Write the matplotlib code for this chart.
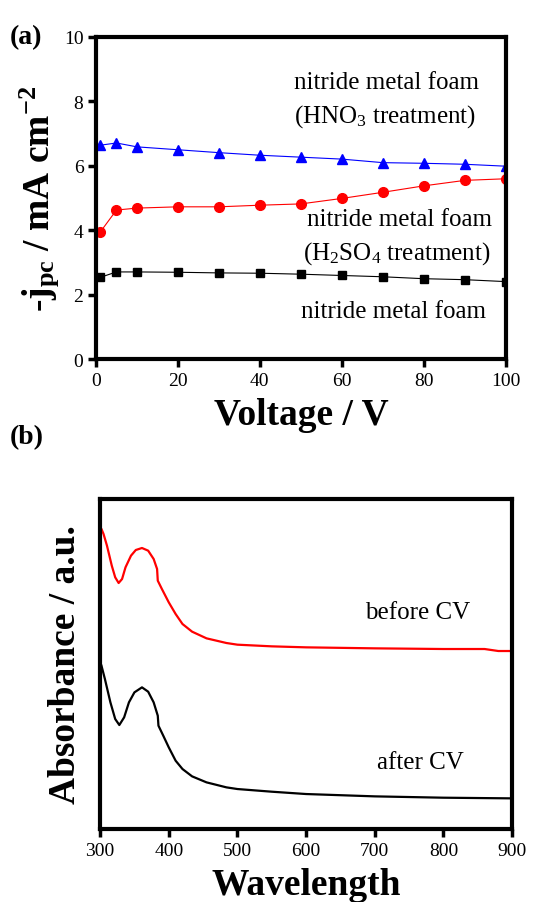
import numpy as np
import matplotlib
matplotlib.use("Agg")
import matplotlib.pyplot as plt

plt.rcParams["font.family"] = "Liberation Serif"
plt.rcParams["mathtext.fontset"] = "custom"
plt.rcParams["mathtext.rm"] = "Liberation Serif"
plt.rcParams["mathtext.bf"] = "Liberation Serif:bold"
plt.rcParams["mathtext.default"] = "regular"

# ---- (a) photocurrent vs applied voltage ----
voltage = [1, 5, 10, 20, 30, 40, 50, 60, 70, 80, 90, 100]
j_hno3 = [6.64, 6.71, 6.59, 6.50, 6.41, 6.33, 6.27, 6.21, 6.10, 6.08, 6.05, 5.99]
j_h2so4 = [3.94, 4.63, 4.69, 4.73, 4.73, 4.78, 4.82, 4.99, 5.18, 5.38, 5.55, 5.60]
j_plain = [2.54, 2.71, 2.71, 2.70, 2.68, 2.67, 2.64, 2.60, 2.56, 2.50, 2.47, 2.41]

# ---- (b) UV-vis absorbance ----
wl_before = [300, 302, 305, 310, 317, 322, 327, 332, 337, 345, 352, 361, 370,
             378, 383, 384, 390, 400, 410, 420, 434, 455, 484, 500, 550, 600,
             700, 800, 860, 880, 900]
abs_before = [9.05, 9.0, 8.85, 8.5, 7.9, 7.55, 7.38, 7.5, 7.85, 8.2, 8.37, 8.43, 8.35,
              8.1, 7.8, 7.45, 7.2, 6.8, 6.45, 6.15, 5.92, 5.72, 5.58, 5.53, 5.48, 5.45,
              5.42, 5.40, 5.40, 5.34, 5.34]
wl_after = [302, 307, 315, 322, 328, 335, 342, 350, 361, 370, 378, 384, 385,
            392, 400, 410, 420, 434, 455, 484, 500, 550, 600, 700, 800, 900]
abs_after = [4.9, 4.5, 3.8, 3.3, 3.12, 3.35, 3.8, 4.1, 4.25, 4.12, 3.8, 3.4, 3.1,
             2.8, 2.45, 2.05, 1.8, 1.58, 1.4, 1.25, 1.2, 1.12, 1.05, 0.98, 0.94, 0.92]

fig = plt.figure(figsize=(5.5, 9.03), dpi=100)

ax1 = fig.add_axes([0.1745, 0.601, 0.745, 0.357])
ax1.plot(voltage, j_hno3, "-^", color="blue", lw=0.8, ms=7)
ax1.plot(voltage, j_h2so4, "-o", color="red", lw=0.8, ms=7)
ax1.plot(voltage, j_plain, "-s", color="black", lw=0.8, ms=6)
ax1.set_xlim(0, 100)
ax1.set_ylim(0, 10)
ax1.set_xticks(range(0, 101, 20))
ax1.set_yticks(range(0, 11, 2))
ax1.set_xlabel("Voltage / V", fontsize=27, fontweight="bold", labelpad=6)
ax1.set_ylabel(r"-j$_\mathbf{pc}$ / mA cm$^\mathbf{-2}$", fontsize=27,
               fontweight="bold", labelpad=2)

ax1.text(71, 8.6, "nitride metal foam", fontsize=18, ha="center", va="center")
ax1.text(70.5, 7.55, r"(HNO$_3$ treatment)", fontsize=18, ha="center", va="center")
ax1.text(74, 4.35, "nitride metal foam", fontsize=18, ha="center", va="center")
ax1.text(73.5, 3.32, r"(H$_2$SO$_4$ treatment)", fontsize=18, ha="center", va="center")
ax1.text(72.5, 1.5, "nitride metal foam", fontsize=18, ha="center", va="center")

ax2 = fig.add_axes([0.182, 0.0808, 0.749, 0.3655])
ax2.plot(wl_before, abs_before, color="red", lw=1.6)
ax2.plot(wl_after, abs_after, color="black", lw=1.6)
ax2.set_xlim(300, 900)
ax2.set_ylim(0, 9.9)
ax2.set_xticks(range(300, 901, 100))
ax2.set_yticks([])
ax2.set_xlabel("Wavelength", fontsize=27, fontweight="bold", labelpad=6)
ax2.set_ylabel("Absorbance / a.u.", fontsize=27, fontweight="bold", labelpad=12)
ax2.text(762, 6.5, "before CV", fontsize=18, ha="center", va="center")
ax2.text(767, 2.0, "after CV", fontsize=18, ha="center", va="center")

for ax in (ax1, ax2):
    for sp in ax.spines.values():
        sp.set_linewidth(3)
    ax.tick_params(direction="out", length=6, width=2.5, labelsize=14, pad=3)

fig.text(0.018, 0.958, "(a)", fontsize=20, fontweight="bold", va="center")
fig.text(0.018, 0.515, "(b)", fontsize=20, fontweight="bold", va="center")

fig.savefig("out.png", dpi=100)
